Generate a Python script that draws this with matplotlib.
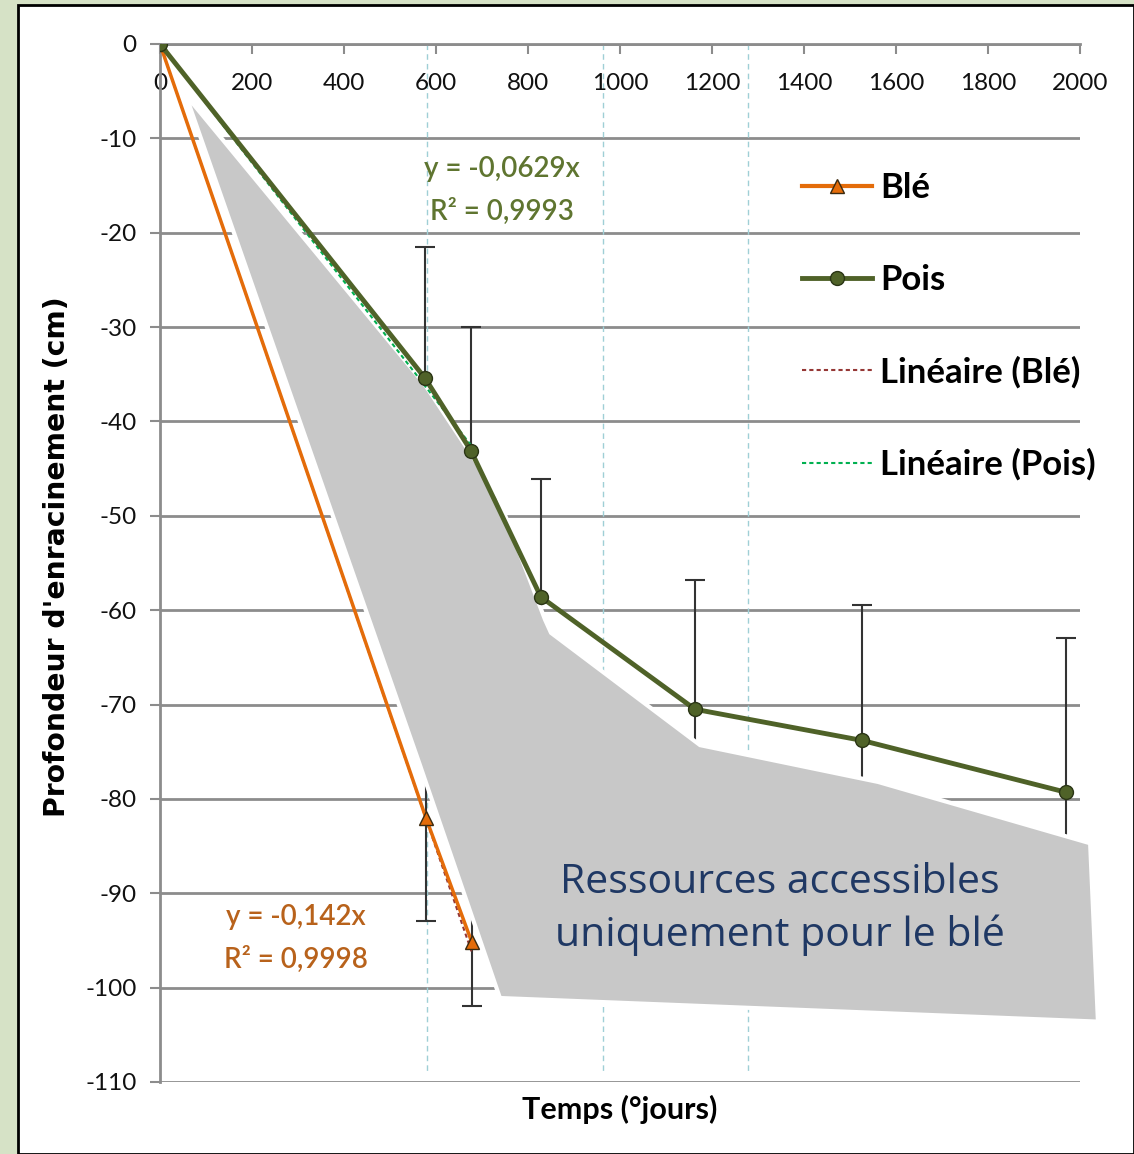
import numpy as np
import matplotlib
matplotlib.use('Agg')
from matplotlib import pyplot as plt
from matplotlib.patches import Polygon, Rectangle
from matplotlib.lines import Line2D

plt.rcParams['axes.unicode_minus'] = False

# data
ble_x = [0, 578, 678]
ble_y = [0, -82.0, -95.2]
ble_err = [0, 10.9, 6.7]

pois_x = [0, 576, 676, 828, 1163, 1526, 1970]
pois_y = [0, -35.4, -43.1, -58.6, -70.5, -73.8, -79.3]
pois_err = [0, 13.9, 13.1, 12.5, 13.7, 14.3, 16.4]

ble_slope = -0.142
pois_slope = -0.0629
ble_trend_x = [0, 678]
pois_trend_x = [0, 676]

xticks = list(range(0, 2001, 200))
yticks = list(range(0, -111, -10))
guide_x = [580, 963, 1278]

# grey overlay shape (data units)
zone_x = [56, 576, 678, 735, 837, 850, 1174, 1561, 2022, 2039, 739, 565]
zone_y = [-5.4, -36.1, -43.6, -48.0, -61.0, -62.4, -74.3, -78.2, -84.7, -103.6, -101.1, -76.4]

narrow = ['Lato', 'DejaVu Sans']

fig = plt.figure(figsize=(11.34, 11.54), dpi=100)
fig.patch.set_facecolor('#d6e2c6')
bg = Rectangle((18/1134, 0), 1 - 18/1134, 1 - 5/1154, transform=fig.transFigure,
               facecolor='white', edgecolor='black', linewidth=2, zorder=-5)
fig.patches.append(bg)

ax = fig.add_axes([160/1134, 72/1154, 920/1134, 1038/1154])
ax.set_facecolor('none')
ax.set_xlim(0, 2000)
ax.set_ylim(-110, 0)

grid_c = '#8c8c8c'
for yv in yticks:
    ax.axhline(yv, color=grid_c, linewidth=2, zorder=1)
for xv in guide_x:
    ax.plot([xv, xv], [0, -109], color='#9fcfd6', linewidth=1, linestyle=(0, (4, 3)), zorder=1)

for s in ['top', 'right']:
    ax.spines[s].set_visible(False)
ax.spines['bottom'].set_position(('data', 0))
ax.spines['bottom'].set_color(grid_c)
ax.spines['bottom'].set_linewidth(2)
ax.spines['left'].set_color(grid_c)
ax.spines['left'].set_linewidth(2)

ax.set_xticks(xticks)
ax.set_yticks(yticks)
ax.tick_params(axis='x', direction='out', length=7, width=1.5, color=grid_c, pad=14)
ax.tick_params(axis='y', direction='out', length=7, width=1.5, color=grid_c, pad=10)
for lab in ax.get_xticklabels() + ax.get_yticklabels():
    lab.set_family(narrow)
    lab.set_fontsize(17.5)
    lab.set_color('#111111')

# error bars
ax.errorbar(pois_x, pois_y, yerr=pois_err, fmt='none', ecolor='#333333', elinewidth=1.5,
            capsize=7, capthick=1.5, zorder=2)
ax.errorbar(ble_x, ble_y, yerr=ble_err, fmt='none', ecolor='#333333', elinewidth=1.5,
            capsize=7, capthick=1.5, zorder=2)

# grey zone on top of error bars
zone = Polygon(np.column_stack([zone_x, zone_y]), closed=True, facecolor='#c8c8c8',
               edgecolor='white', linewidth=3, zorder=3, clip_on=False)
ax.add_patch(zone)

# trend lines
tx = np.array(ble_trend_x)
ax.plot(tx, ble_slope * tx, color='#953735', linestyle=(0, (2, 1.5)), linewidth=1.5, zorder=4)
tx = np.array(pois_trend_x)
ax.plot(tx, pois_slope * tx, color='#00b050', linestyle=(0, (2, 1.5)), linewidth=1.5, zorder=4)

# series
ax.plot(ble_x, ble_y, color='#e46c0a', linewidth=2.5, marker='^', markersize=10,
        markerfacecolor='#e46c0a', markeredgecolor='#3a2a10', zorder=5)
ax.plot(pois_x, pois_y, color='#4f6228', linewidth=3.5, marker='o', markersize=10,
        markerfacecolor='#4f6228', markeredgecolor='#2a3515', zorder=5)

# equations
ax.text(743, -15.5, 'y = -0,0629x\nR² = 0,9993', color='#5f7530', family=narrow,
        fontsize=20, fontweight='semibold', ha='center', va='center', linespacing=1.7, zorder=6)
ax.text(296, -94.8, 'y = -0,142x\nR² = 0,9998', color='#b8621b', family=narrow,
        fontsize=20, fontweight='semibold', ha='center', va='center', linespacing=1.7, zorder=6)

ax.text(1347, -91.7, 'Ressources accessibles\nuniquement pour le blé', color='#1f3864',
        family=['Open Sans', 'DejaVu Sans'], fontsize=29.5, ha='center', va='center',
        linespacing=1.37, zorder=6)

ax.set_xlabel('Temps (°jours)', family=narrow, fontsize=22, fontweight='bold')
ax.xaxis.set_label_coords(0.5, -0.012)
ax.set_ylabel("Profondeur d'enracinement (cm)", family=['DejaVu Sans'],
              fontsize=20.3, fontweight='bold')
ax.yaxis.set_label_coords(-0.097, 0.506)

handles = [
    Line2D([], [], color='#e46c0a', linewidth=3, marker='^', markersize=10,
           markerfacecolor='#e46c0a', markeredgecolor='#3a2a10'),
    Line2D([], [], color='#4f6228', linewidth=3.5, marker='o', markersize=10,
           markerfacecolor='#4f6228', markeredgecolor='#2a3515'),
    Line2D([], [], color='#953735', linestyle=(0, (2, 1.5)), linewidth=1.5),
    Line2D([], [], color='#00b050', linestyle=(0, (2, 1.5)), linewidth=1.5),
]
labels = ['Blé', 'Pois', 'Linéaire (Blé)', 'Linéaire (Pois)']
leg = fig.legend(handles, labels, loc='upper left', bbox_to_anchor=(785/1134, 1 - 155/1154),
                 bbox_transform=fig.transFigure, frameon=False, borderpad=0,
                 handlelength=2.0, handletextpad=0.25, labelspacing=1.72,
                 prop={'family': narrow, 'size': 25, 'weight': 'bold'})

fig.savefig('out.png', dpi=100, facecolor=fig.get_facecolor())
